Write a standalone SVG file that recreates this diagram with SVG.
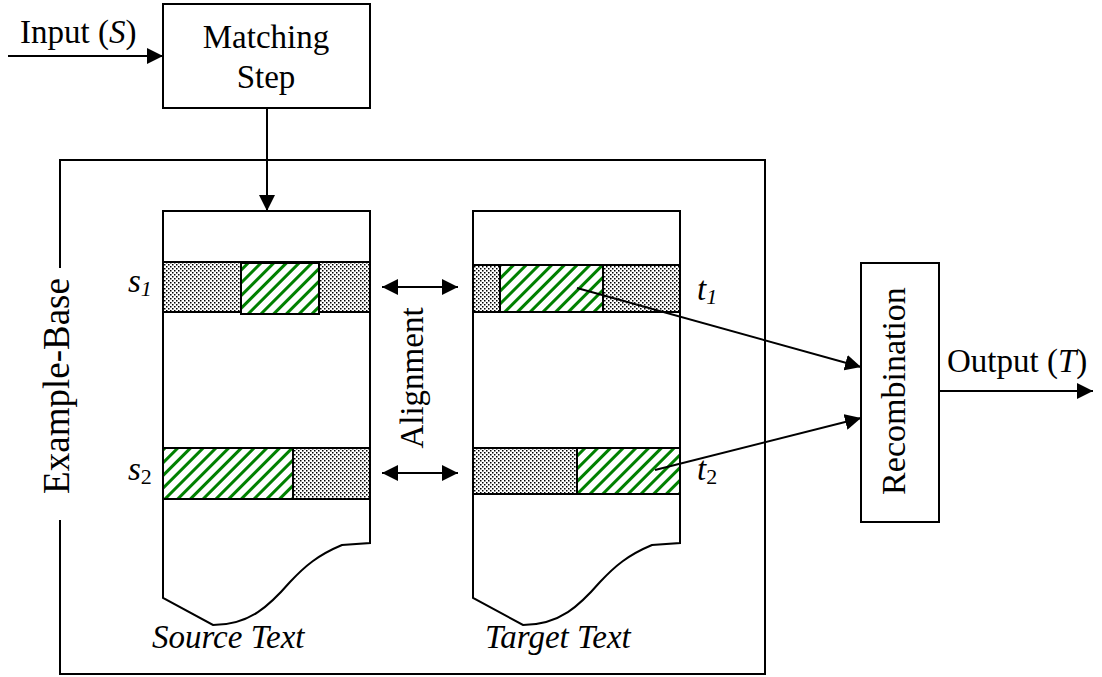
<svg xmlns="http://www.w3.org/2000/svg" width="1102" height="677" viewBox="0 0 1102 677">
<style>
text{font-family:"Liberation Serif","Times New Roman",serif;fill:#000;font-size:33px}
.it{font-style:italic}
.ln{fill:none;stroke:#000;stroke-width:2}
.box{fill:#fff;stroke:#000;stroke-width:2}
.dot{fill:url(#dots);stroke:#000;stroke-width:2}
.hat{fill:url(#hatch);stroke:#000;stroke-width:2}
</style>
<defs>
<pattern id="dots" width="4" height="4" patternUnits="userSpaceOnUse">
<rect width="4" height="4" fill="#fff"/>
<rect x="0" y="0" width="1.5" height="1.5" fill="#000"/>
<rect x="2" y="2" width="1.5" height="1.5" fill="#000"/>
</pattern>
<pattern id="hatch" width="9" height="9" patternUnits="userSpaceOnUse" patternTransform="rotate(45)">
<rect width="9" height="9" fill="#fff"/>
<rect x="0" y="0" width="3" height="9" fill="#008000"/>
</pattern>
<marker id="ah" markerWidth="16" markerHeight="16" viewBox="0 0 16 16" refX="16" refY="8" orient="auto-start-reverse" markerUnits="userSpaceOnUse">
<path d="M0,0 L16,8 L0,16 Z" fill="#000"/>
</marker>
</defs>

<g id="example-base">
<path class="ln" d="M60,268 V160 H765 V674 H60 V520"/>
<text transform="translate(69,386) rotate(-90)" text-anchor="middle" style="font-size:37px">Example-Base</text>
</g>

<g id="matching-step">
<rect class="box" x="163" y="4" width="207" height="104"/>
<text x="266" y="48" text-anchor="middle">Matching</text>
<text x="266" y="88" text-anchor="middle">Step</text>
</g>

<g id="source-text">
<path class="box" d="M163,211 H370 V543 L342,545 C318,555 305,566 290,582 C270,605 250,625 213,625 L163,598 Z"/>
<rect class="dot" x="163" y="262" width="207" height="50"/>
<rect class="hat" x="241" y="263" width="78" height="51"/>
<rect class="dot" x="163" y="448" width="207" height="51"/>
<rect class="hat" x="163" y="448" width="130" height="51"/>
<text class="it" x="152" y="648">Source Text</text>
<text class="it" x="128" y="292">s<tspan font-size="22" dy="4">1</tspan></text>
<text class="it" x="128" y="480">s<tspan font-size="22" dy="4" font-style="normal">2</tspan></text>
</g>

<g id="target-text">
<path class="box" d="M473,211 H680 V543 L652,545 C628,555 615,566 600,582 C580,605 560,625 523,625 L473,598 Z"/>
<rect class="dot" x="473" y="265" width="207" height="47"/>
<rect class="hat" x="500" y="265" width="103" height="47"/>
<rect class="dot" x="473" y="448" width="207" height="46"/>
<rect class="hat" x="577" y="448" width="103" height="46"/>
<text class="it" x="485" y="648">Target Text</text>
<text class="it" x="697" y="300">t<tspan font-size="22" dy="4">1</tspan></text>
<text class="it" x="697" y="480">t<tspan font-size="22" dy="4" font-style="normal">2</tspan></text>
</g>

<g id="alignment">
<text transform="translate(423,378) rotate(-90)" text-anchor="middle">Alignment</text>
</g>

<g id="recombination">
<rect class="box" x="861" y="263" width="78" height="259"/>
<text transform="translate(905,391) rotate(-90)" text-anchor="middle" style="font-size:34px">Recombination</text>
</g>

<g id="labels">
<text x="20" y="43">Input (<tspan class="it">S</tspan>)</text>
<text x="947" y="372">Output (<tspan class="it">T</tspan>)</text>
</g>

<g id="connectors">
<line class="ln" x1="8" y1="56" x2="163" y2="56" marker-end="url(#ah)"/>
<line class="ln" x1="267" y1="108" x2="267" y2="211" marker-end="url(#ah)"/>
<line class="ln" x1="382" y1="287" x2="458" y2="287" marker-start="url(#ah)" marker-end="url(#ah)"/>
<line class="ln" x1="382" y1="473" x2="458" y2="473" marker-start="url(#ah)" marker-end="url(#ah)"/>
<line class="ln" x1="577" y1="288" x2="861" y2="367" marker-end="url(#ah)"/>
<line class="ln" x1="655" y1="470" x2="861" y2="418" marker-end="url(#ah)"/>
<line class="ln" x1="939" y1="391" x2="1093" y2="391" marker-end="url(#ah)"/>
</g>
</svg>
